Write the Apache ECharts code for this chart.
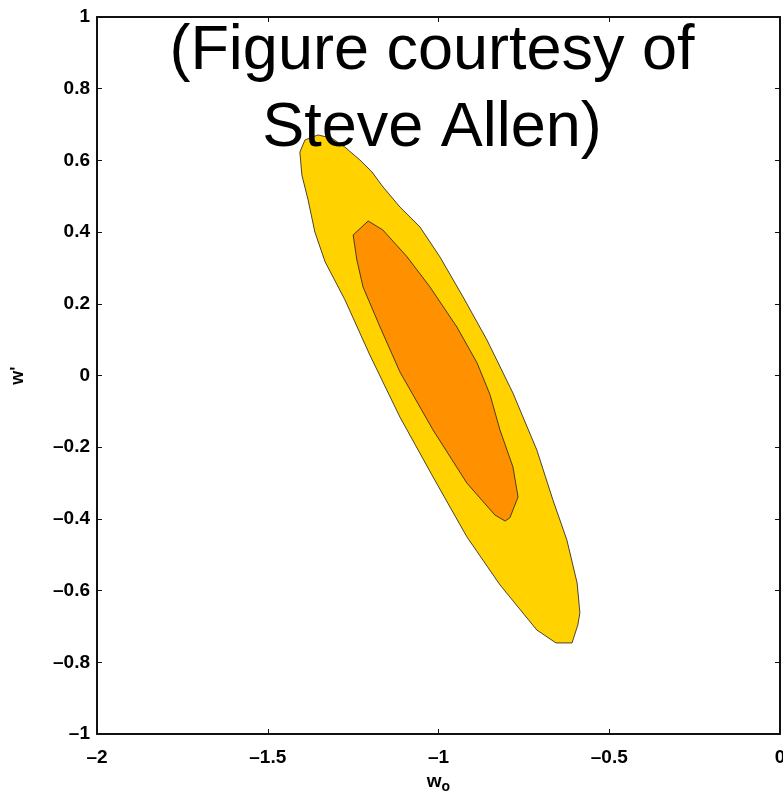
<!DOCTYPE html>
<html>
<head>
<meta charset="utf-8">
<script src="https://cdn.jsdelivr.net/npm/echarts@6/dist/echarts.min.js"></script>
<style>
  html, body { margin: 0; padding: 0; background: #fff; }
  #chart { width: 783px; height: 794px; }
</style>
</head>
<body>
<div id="chart"></div>
<script>
// Confidence contours in the (w0, w') plane
const outerContour = [
  [-1.406, 0.623], [-1.391, 0.657], [-1.353, 0.671], [-1.312, 0.662],
  [-1.274, 0.637], [-1.230, 0.601], [-1.195, 0.568], [-1.165, 0.529],
  [-1.113, 0.470], [-1.054, 0.414], [-0.996, 0.331], [-0.928, 0.219],
  [-0.858, 0.099], [-0.782, -0.049], [-0.712, -0.208], [-0.665, -0.347],
  [-0.624, -0.459], [-0.594, -0.579], [-0.586, -0.662], [-0.592, -0.696],
  [-0.609, -0.746], [-0.656, -0.746], [-0.712, -0.710], [-0.820, -0.584],
  [-0.917, -0.450], [-1.016, -0.283], [-1.113, -0.116], [-1.201, 0.057],
  [-1.274, 0.211], [-1.332, 0.317], [-1.362, 0.400], [-1.382, 0.490],
  [-1.400, 0.559]
];
const innerContour = [
  [-1.250, 0.392], [-1.206, 0.431], [-1.163, 0.406], [-1.092, 0.331],
  [-1.025, 0.247], [-0.946, 0.135], [-0.887, 0.035], [-0.849, -0.054],
  [-0.820, -0.152], [-0.782, -0.255], [-0.767, -0.339], [-0.791, -0.397],
  [-0.805, -0.406], [-0.835, -0.389], [-0.917, -0.300], [-1.016, -0.152],
  [-1.113, 0.010], [-1.171, 0.135], [-1.221, 0.247], [-1.239, 0.322]
];
const xTicks = [-2, -1.5, -1, -0.5, 0];
const yTicks = [-1, -0.8, -0.6, -0.4, -0.2, 0, 0.2, 0.4, 0.6, 0.8, 1];

const chart = echarts.init(document.getElementById('chart'), null, { renderer: 'canvas' });

function fmt(v) {
  const s = String(Math.round(v * 10) / 10);
  return v < 0 ? '\u2013' + s.slice(1) : s;
}

const labelFont = {
  fontFamily: 'Liberation Sans, Arial, sans-serif',
  fontWeight: 'bold',
  fontSize: 19,
  color: '#000'
};

function contourSeries(points, fill, z) {
  return {
    type: 'custom',
    z: z,
    coordinateSystem: 'cartesian2d',
    xAxisIndex: 0,
    yAxisIndex: 0,
    data: [points[0]],
    encode: { x: 0, y: 1 },
    renderItem: function (params, api) {
      const pts = points.map(p => api.coord(p));
      return {
        type: 'polygon',
        shape: { points: pts },
        style: { fill: fill, stroke: 'rgba(40,40,40,0.85)', lineWidth: 1 }
      };
    },
    silent: true
  };
}

const axisLineStyle = { show: true, onZero: false, lineStyle: { color: '#111', width: 2 } };
const tickStyle = { show: true, inside: true, length: 5, lineStyle: { color: '#111', width: 1 } };

chart.setOption({
  animation: false,
  backgroundColor: '#fff',
  title: {
    text: '(Figure courtesy of\nSteve Allen)',
    left: 427,
    top: 8,
    textAlign: 'center',
    z: 10,
    textStyle: {
      fontFamily: 'Liberation Sans, Arial, sans-serif',
      fontWeight: 'normal',
      fontSize: 63,
      lineHeight: 77,
      color: '#000'
    }
  },
  grid: { left: 97, right: 3, top: 17, bottom: 60, containLabel: false, outerBoundsMode: 'none' },
  xAxis: [
    {
      type: 'value', min: -2, max: 0, interval: 0.5,
      position: 'bottom',
      axisLine: axisLineStyle,
      axisTick: tickStyle,
      splitLine: { show: false },
      axisLabel: Object.assign({ margin: 14, formatter: v => fmt(v) }, labelFont),
      name: '{w|w}{s|o}',
      nameLocation: 'middle',
      nameGap: 30,
      nameTextStyle: {
        rich: {
          w: Object.assign({}, labelFont, { fontSize: 19 }),
          s: Object.assign({}, labelFont, { fontSize: 14, padding: [12, 0, 0, 0] })
        }
      }
    },
    {
      type: 'value', min: -2, max: 0, interval: 0.5,
      position: 'top',
      axisLine: axisLineStyle,
      axisTick: tickStyle,
      axisLabel: { show: false },
      splitLine: { show: false }
    }
  ],
  yAxis: [
    {
      type: 'value', min: -1, max: 1, interval: 0.2,
      position: 'left',
      axisLine: axisLineStyle,
      axisTick: tickStyle,
      splitLine: { show: false },
      axisLabel: Object.assign({ margin: 7, formatter: v => fmt(v) }, labelFont),
      name: "w'",
      nameLocation: 'middle',
      nameGap: 70,
      nameRotate: 90,
      nameTextStyle: Object.assign({}, labelFont, { fontSize: 18 })
    },
    {
      type: 'value', min: -1, max: 1, interval: 0.2,
      position: 'right',
      axisLine: axisLineStyle,
      axisTick: tickStyle,
      axisLabel: { show: false },
      splitLine: { show: false }
    }
  ],
  series: [
    contourSeries(outerContour, '#FFD200', 2),
    contourSeries(innerContour, '#FF9000', 3)
  ]
});
</script>
</body>
</html>
